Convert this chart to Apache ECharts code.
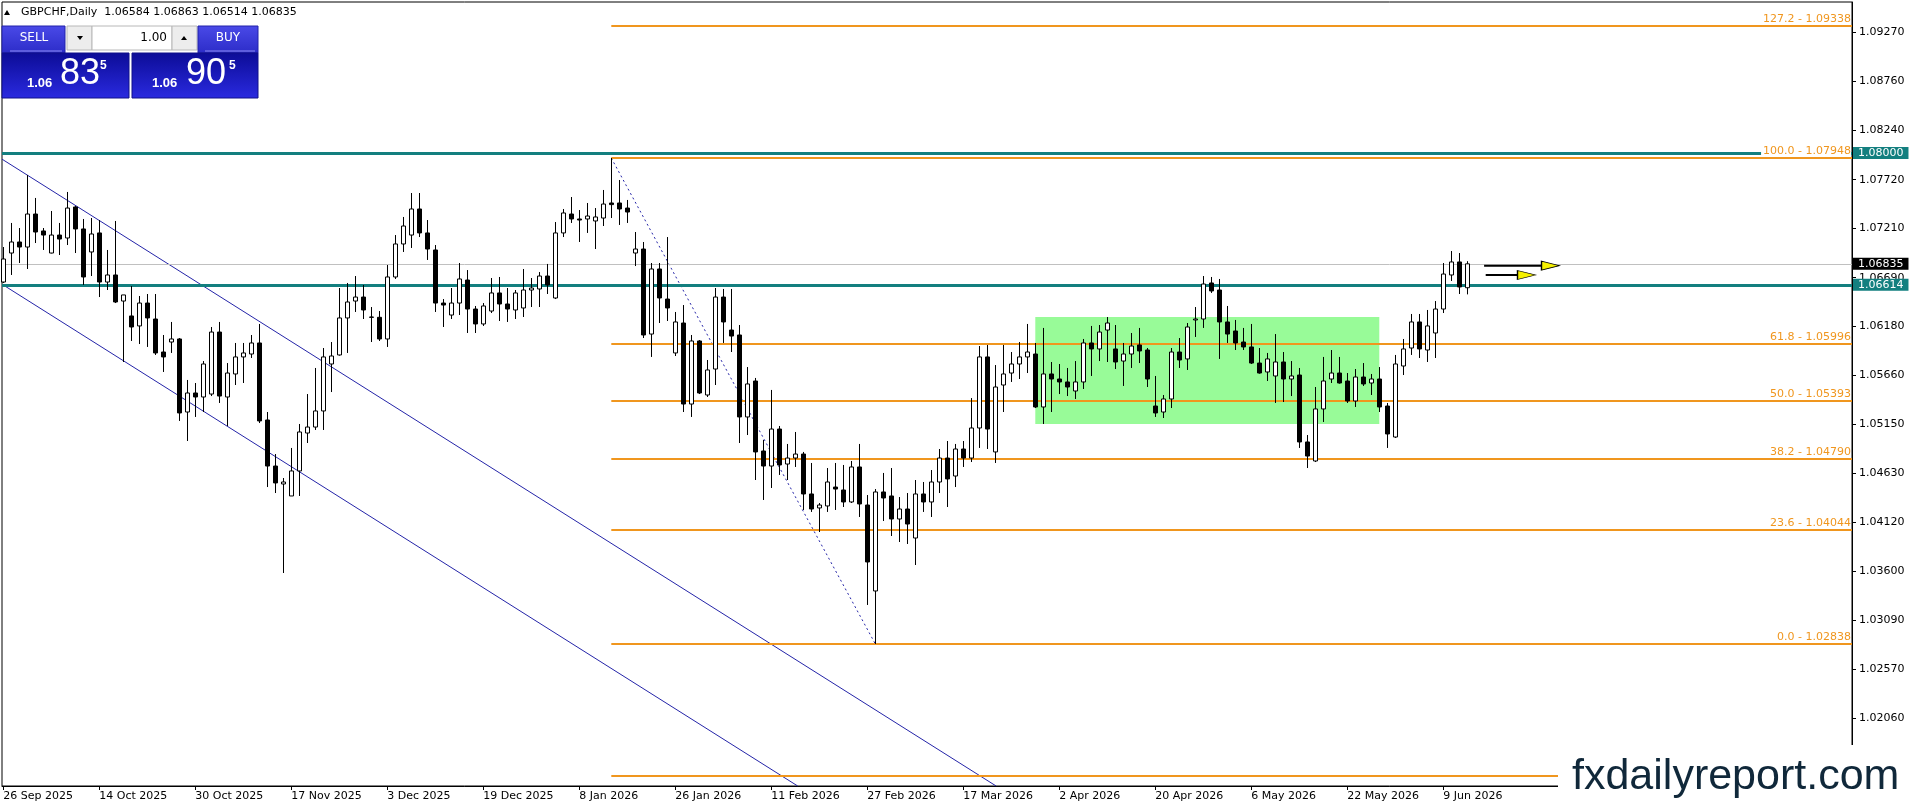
<!DOCTYPE html>
<html>
<head>
<meta charset="utf-8">
<script src="https://cdn.jsdelivr.net/npm/echarts/dist/echarts.min.js"></script>
<style>
html,body{margin:0;padding:0;background:#fff;}
#c{width:1916px;height:810px;}
</style>
</head>
<body>
<div id="c"></div>
<script>
// ---------------- DATA ----------------
const dateLabels = ['26 Sep 2025','14 Oct 2025','30 Oct 2025','17 Nov 2025','3 Dec 2025','19 Dec 2025','8 Jan 2026','26 Jan 2026','11 Feb 2026','27 Feb 2026','17 Mar 2026','2 Apr 2026','20 Apr 2026','6 May 2026','22 May 2026','9 Jun 2026'];
const dateLabelStep = 12;
const priceTicks = [1.0927,1.0876,1.0824,1.0772,1.0721,1.0669,1.0618,1.0566,1.0515,1.0463,1.0412,1.0360,1.0309,1.0257,1.0206];

const opens = [
1.06644,1.06949,1.07065,1.07012,1.07359,1.07181,1.06949,1.07138,1.07107,1.07433,
1.07202,1.06960,1.07160,1.06644,1.06718,1.06444,1.06287,1.06182,1.06423,1.06255,
1.05908,1.06013,1.06045,1.05277,1.05477,1.05435,1.05466,1.06118,1.05435,1.05677,
1.05856,1.05887,1.06003,1.05193,1.04709,1.04520,1.04394,1.04657,1.05056,1.05119,
1.05288,1.05782,1.05877,1.06266,1.06444,1.06486,1.06276,1.06273,1.06045,1.06697,
1.07044,1.07138,1.07412,1.07160,1.06981,1.06423,1.06297,1.06423,1.06665,1.06360,
1.06203,1.06339,1.06529,1.06413,1.06350,1.06371,1.06560,1.06571,1.06707,1.06476,
1.07160,1.07359,1.07307,1.07307,1.07286,1.07317,1.07475,1.07475,1.07422,1.06949,
1.06991,1.06097,1.06781,1.06465,1.05898,1.06213,1.05361,1.06024,1.05456,1.05729,
1.06486,1.06139,1.06087,1.05225,1.05603,1.04867,1.04709,1.05098,1.04730,1.04793,
1.04835,1.04415,1.04268,1.04289,1.04488,1.04457,1.04331,1.04699,1.04299,1.03395,
1.04436,1.04394,1.04152,1.04257,1.03952,1.04415,1.04331,1.04541,1.04793,1.04604,
1.04888,1.04793,1.05109,1.05856,1.04857,1.05561,1.05687,1.05782,1.05856,1.05887,
1.05330,1.05677,1.05624,1.05593,1.05498,1.05593,1.06003,1.05940,1.06139,1.05940,
1.05813,1.05887,1.05982,1.05929,1.05340,1.05277,1.05414,1.05908,1.05835,1.06245,
1.06255,1.06634,1.06560,1.06224,1.06129,1.06013,1.05961,1.05792,1.05698,1.05656,
1.05803,1.05624,1.05666,1.04962,1.04762,1.05309,1.05624,1.05687,1.05603,1.05393,
1.05645,1.05582,1.05624,1.05340,1.05014,1.05761,1.05950,1.06224,1.05929,1.06108,
1.06360,1.06718,1.06855,1.06584];

const highs = [
1.07012,1.07265,1.07212,1.07769,1.07528,1.07212,1.07391,1.07265,1.07591,1.07443,
1.07307,1.07317,1.07296,1.06981,1.07286,1.06508,1.06602,1.06497,1.06518,1.06518,
1.06087,1.06224,1.06055,1.05614,1.05582,1.05813,1.06171,1.06224,1.05792,1.06003,
1.06003,1.06087,1.06203,1.05277,1.04835,1.04583,1.04899,1.05151,1.05466,1.05740,
1.05950,1.06013,1.06581,1.06634,1.06707,1.06613,1.06381,1.06339,1.06823,1.07138,
1.07328,1.07580,1.07580,1.07296,1.07033,1.06465,1.06581,1.06844,1.06770,1.06392,
1.06423,1.06686,1.06697,1.06581,1.06560,1.06781,1.06686,1.06749,1.06834,1.07275,
1.07412,1.07538,1.07401,1.07475,1.07422,1.07612,1.07948,1.07717,1.07507,1.07170,
1.07065,1.06844,1.06844,1.07117,1.06329,1.06402,1.06087,1.06034,1.05824,1.06581,
1.06571,1.06571,1.06192,1.05750,1.05635,1.04983,1.05509,1.05130,1.04941,1.05067,
1.04857,1.04741,1.04320,1.04688,1.04741,1.04720,1.04762,1.04941,1.04404,1.04467,
1.04636,1.04688,1.04383,1.04425,1.04562,1.04541,1.04667,1.04888,1.04972,1.04941,
1.04972,1.05424,1.05971,1.05982,1.05771,1.05982,1.05908,1.06013,1.06203,1.06003,
1.06161,1.05803,1.05782,1.05740,1.05813,1.06045,1.06182,1.06192,1.06276,1.06192,
1.06003,1.06108,1.06161,1.05950,1.05656,1.05456,1.05950,1.06055,1.06213,1.06381,
1.06707,1.06697,1.06676,1.06392,1.06245,1.06161,1.06203,1.05950,1.05898,1.06097,
1.05908,1.05813,1.05740,1.05035,1.05540,1.05856,1.05929,1.05856,1.05687,1.05729,
1.05792,1.05677,1.05750,1.05372,1.05877,1.06045,1.06308,1.06308,1.06350,1.06444,
1.06844,1.06970,1.06949,1.06863];

const lows = [
1.06634,1.06718,1.06844,1.06781,1.07054,1.06981,1.06945,1.06928,1.07033,1.06949,
1.06613,1.06707,1.06486,1.06560,1.06423,1.05803,1.06024,1.05992,1.05961,1.05877,
1.05698,1.05898,1.05183,1.04972,1.05225,1.05277,1.05445,1.05372,1.05130,1.05561,
1.05582,1.05845,1.05161,1.04488,1.04425,1.03584,1.04394,1.04394,1.04951,1.05088,
1.05088,1.05487,1.05870,1.05898,1.06329,1.06255,1.06013,1.06024,1.05961,1.06676,
1.06960,1.07002,1.07117,1.06876,1.06329,1.06171,1.06255,1.06297,1.06108,1.06108,
1.06182,1.06318,1.06234,1.06224,1.06255,1.06276,1.06381,1.06381,1.06518,1.06465,
1.07117,1.07265,1.07065,1.07160,1.06991,1.07233,1.07317,1.07244,1.07265,1.06812,
1.06055,1.05856,1.06213,1.06234,1.05866,1.05277,1.05225,1.05466,1.05435,1.05561,
1.06003,1.05908,1.04951,1.05035,1.04562,1.04352,1.04478,1.04615,1.04562,1.04699,
1.04247,1.04226,1.04015,1.04226,1.04247,1.04278,1.04320,1.04173,1.03248,1.02838,
1.04131,1.03973,1.03910,1.03889,1.03668,1.04226,1.04173,1.04425,1.04278,1.04488,
1.04699,1.04751,1.04899,1.04888,1.04741,1.05277,1.05593,1.05624,1.05687,1.05319,
1.05151,1.05277,1.05466,1.05445,1.05414,1.05519,1.05656,1.05813,1.05803,1.05729,
1.05551,1.05740,1.05792,1.05540,1.05225,1.05214,1.05319,1.05740,1.05719,1.06066,
1.06161,1.06529,1.05835,1.06003,1.05929,1.05929,1.05782,1.05680,1.05603,1.05372,
1.05382,1.05445,1.04899,1.04688,1.04751,1.05172,1.05582,1.05575,1.05372,1.05330,
1.05551,1.05456,1.05277,1.04899,1.05004,1.05666,1.05877,1.05845,1.05803,1.05845,
1.06318,1.06655,1.06518,1.06514];

const closes = [
1.06886,1.07065,1.07012,1.07359,1.07170,1.07138,1.07138,1.07096,1.07422,1.07202,
1.06697,1.07149,1.06644,1.06718,1.06434,1.06508,1.06171,1.06423,1.06266,1.05898,
1.05856,1.06045,1.05267,1.05477,1.05435,1.05782,1.06118,1.05445,1.05687,1.05856,
1.05898,1.06003,1.05183,1.04709,1.04531,1.04541,1.04657,1.05067,1.05119,1.05288,
1.05856,1.05866,1.06266,1.06434,1.06486,1.06350,1.06273,1.06045,1.06697,1.07044,
1.07233,1.07412,1.07160,1.06991,1.06423,1.06402,1.06423,1.06676,1.06360,1.06203,
1.06392,1.06529,1.06413,1.06360,1.06529,1.06560,1.06581,1.06707,1.06613,1.07160,
1.07370,1.07307,1.07296,1.07338,1.07328,1.07464,1.07458,1.07412,1.07380,1.06991,
1.06087,1.06781,1.06476,1.06371,1.06224,1.05361,1.06024,1.05477,1.05719,1.06486,
1.06224,1.06076,1.05225,1.05572,1.04857,1.04709,1.05098,1.04720,1.04793,1.04835,
1.04415,1.04257,1.04299,1.04541,1.04467,1.04331,1.04699,1.04310,1.03700,1.04436,
1.04373,1.04152,1.04257,1.04099,1.04415,1.04331,1.04541,1.04793,1.04573,1.04888,
1.04793,1.05109,1.05856,1.05098,1.05540,1.05677,1.05782,1.05856,1.05908,1.05330,
1.05677,1.05624,1.05593,1.05540,1.05593,1.06003,1.05940,1.06118,1.06213,1.05803,
1.05887,1.05971,1.05919,1.05624,1.05267,1.05414,1.05908,1.05824,1.06171,1.06255,
1.06623,1.06550,1.06224,1.06097,1.06003,1.05961,1.05792,1.05687,1.05835,1.05803,
1.05624,1.05656,1.04962,1.04814,1.05309,1.05603,1.05687,1.05582,1.05393,1.05645,
1.05572,1.05624,1.05330,1.05046,1.05782,1.05940,1.06224,1.05940,1.06182,1.06360,
1.06728,1.06855,1.06592,1.06835];

// Fibonacci retracement (anchored at bar 76 high)
const fibStartBar = 76;
const fibLevels = ['127.2','100.0','61.8','50.0','38.2','23.6','0.0','-27.2'];
const fibPrices = [1.09338,1.07948,1.05996,1.05393,1.04790,1.04044,1.02838,1.01448];
const fibTrend = [[76,1.07948],[109,1.02838]];

// Horizontal levels
const tealLevels = [1.08000,1.06614];
const bidPrice = 1.06835;

// Descending channel
const channelUpper = [[-0.16,1.07936],[124.1,1.01344]];
const channelLower = [[-0.16,1.06621],[99.3,1.01344]];

// Consolidation box
const boxBars = [129,172];
const boxPrices = [1.06276,1.05151];

// Arrows: [startBar, endBar, headBar, price]
const arrow1 = [185.1,192.6,193.4,1.06816];
const arrow2 = [185.3,189.6,190.4,1.06718];

const header = 'GBPCHF,Daily  1.06584 1.06863 1.06514 1.06835';

// ---------------- CHART ----------------
const FONT = '"Liberation Sans", Arial, sans-serif';
const MT = '"DejaVu Sans", Verdana, sans-serif';
const ORANGE = '#f0961e';
const TEAL = '#137f7f';
const xMin = -0.1625, xMax = 231.0875;
const yMin = 1.013441, yMax = 1.095887;

const candleData = opens.map((o,i)=>[i,o,closes[i],lows[i],highs[i]]);
const labelIdx = dateLabels.map((d,k)=>k*dateLabelStep);

const fibLineData = fibPrices.map((p,k)=>[
  {name: fibLevels[k] + ' - ' + p.toFixed(5), coord:[fibStartBar,p],
   label: {show: fibLevels[k] !== '-27.2'}},
  {coord:[xMax,p]}
]);

const chart = echarts.init(document.getElementById('c'), null, {renderer:'canvas', width:1916, height:810});

const blueGradTop = new echarts.graphic.LinearGradient(0,0,0,1,[{offset:0,color:'#4a4ae8'},{offset:1,color:'#2c2cc8'}]);
const blueGradBot = new echarts.graphic.LinearGradient(0,0,0,1,[{offset:0,color:'#0c0c96'},{offset:1,color:'#2a2ae0'}]);

const option = {
  animation:false,
  backgroundColor:'#fff',
  textStyle:{fontFamily:MT},
  grid:{left:2, top:2, width:1850, height:784, show:true, borderColor:'#000', borderWidth:1, backgroundColor:'#fff'},
  xAxis:{
    type:'value', min:xMin, max:xMax,
    axisLine:{show:true, onZero:false, lineStyle:{color:'#000', width:1}},
    axisTick:{show:true, length:4, customValues:labelIdx, lineStyle:{color:'#000'}},
    axisLabel:{customValues:labelIdx, formatter:(v)=>dateLabels[Math.round(v/dateLabelStep)]||'', align:'left', margin:5, fontSize:11, color:'#000', fontFamily:MT},
    splitLine:{show:false}
  },
  yAxis:{
    type:'value', position:'right', min:yMin, max:yMax, scale:true,
    axisLine:{show:true, onZero:false, lineStyle:{color:'#000', width:1}},
    axisTick:{show:true, length:4, customValues:priceTicks, lineStyle:{color:'#000'}},
    axisLabel:{customValues:priceTicks, formatter:(v)=>v.toFixed(5), margin:7, fontSize:11, color:'#000', fontFamily:MT},
    splitLine:{show:false}
  },
  series:[
    { // consolidation box
      type:'line', data:[], z:1, silent:true,
      markArea:{silent:true, itemStyle:{color:'#98fb98', opacity:1},
        data:[[{coord:[boxBars[0],boxPrices[0]]},{coord:[boxBars[1],boxPrices[1]]}]]}
    },
    { // channel upper
      type:'line', data:channelUpper, z:2, symbol:'none', silent:true, clip:true,
      lineStyle:{color:'#2424a8', width:1}
    },
    { // channel lower
      type:'line', data:channelLower, z:2, symbol:'none', silent:true, clip:true,
      lineStyle:{color:'#2424a8', width:1}
    },
    { // bid line
      type:'line', data:[], z:2, silent:true,
      markLine:{silent:true, precision:5, symbol:['none','none'], animation:false,
        lineStyle:{color:'#c0c0c0', width:1, type:'solid'},
        label:{show:true, position:'end', distance:1, formatter:'{b}', color:'#fff', backgroundColor:'#000', padding:[1,5,0,5], fontSize:11, fontFamily:MT},
        data:[{name:bidPrice.toFixed(5), yAxis:bidPrice}]}
    },
    { // teal levels
      type:'line', data:[], z:3, silent:true,
      markLine:{silent:true, precision:5, symbol:['none','none'], animation:false,
        lineStyle:{color:TEAL, width:3, type:'solid'},
        label:{show:true, position:'end', distance:1, formatter:'{b}', color:'#fff', backgroundColor:TEAL, padding:[1,5,0,5], fontSize:11, fontFamily:MT},
        data:tealLevels.map(v=>({name:v.toFixed(5), yAxis:v}))}
    },
    { // fib levels
      type:'line', data:[], z:4, silent:true,
      markLine:{silent:true, precision:5, symbol:['none','none'], animation:false,
        lineStyle:{color:ORANGE, width:2, type:'solid'},
        label:{show:true, position:'insideEndTop', distance:1, formatter:'{b}', color:ORANGE, backgroundColor:'#fff', padding:[0,0,0,2], fontSize:11, fontFamily:MT},
        data:fibLineData}
    },
    { // fib trend line
      type:'line', data:fibTrend, z:4, symbol:'none', silent:true,
      lineStyle:{color:'#2424a8', width:1, type:[2,3]}
    },
    { // candles
      type:'candlestick', name:'GBPCHF', z:6, silent:true,
      dimensions:['bar','open','close','lowest','highest'],
      encode:{x:0, y:[1,2,3,4]},
      data:candleData,
      barWidth:4,
      itemStyle:{color:'#fff', color0:'#000', borderColor:'#000', borderColor0:'#000', borderWidth:1}
    },
    { // arrow shafts
      type:'line', z:7, symbol:'none', silent:true,
      data:[[arrow1[0],arrow1[3]],[arrow1[1],arrow1[3]]],
      lineStyle:{color:'#000', width:2}
    },
    {
      type:'line', z:7, symbol:'none', silent:true,
      data:[[arrow2[0],arrow2[3]],[arrow2[1],arrow2[3]]],
      lineStyle:{color:'#000', width:2}
    },
    { // arrow heads
      type:'scatter', z:8, silent:true,
      symbol:'triangle', symbolRotate:-90, symbolSize:[9,18],
      data:[[arrow1[2],arrow1[3]],[arrow2[2],arrow2[3]]],
      itemStyle:{color:'#f5f000', borderColor:'#000', borderWidth:1, opacity:1}
    }
  ],
  graphic:[
    {type:'polygon', z:50, shape:{points:[[4,15],[10,15],[7,10]]}, style:{fill:'#000'}},
    {type:'text', z:50, x:21, y:12, style:{text:header, fill:'#000', font:'11px '+MT, verticalAlign:'middle'}},
    // SELL
    {type:'rect', z:50, shape:{x:2, y:26, width:63, height:27}, style:{fill:blueGradTop, stroke:'#2222aa', lineWidth:1}},
    {type:'line', z:51, shape:{x1:10, y1:51, x2:62, y2:51}, style:{stroke:'#8c8cf0', lineWidth:1}},
    {type:'text', z:51, x:34, y:38, style:{text:'SELL', fill:'#fff', font:'12px '+MT, align:'center', verticalAlign:'middle'}},
    // down box
    {type:'rect', z:50, shape:{x:67, y:26, width:25, height:24}, style:{fill:'#ededed', stroke:'#b8b8b8', lineWidth:1}},
    {type:'polygon', z:51, shape:{points:[[77,36],[83,36],[80,40]]}, style:{fill:'#000'}},
    // value box
    {type:'rect', z:50, shape:{x:92, y:26, width:80, height:24}, style:{fill:'#fff', stroke:'#b8b8b8', lineWidth:1}},
    {type:'text', z:51, x:167, y:38, style:{text:'1.00', fill:'#000', font:'12px '+MT, align:'right', verticalAlign:'middle'}},
    // up box
    {type:'rect', z:50, shape:{x:172, y:26, width:25, height:24}, style:{fill:'#ededed', stroke:'#b8b8b8', lineWidth:1}},
    {type:'polygon', z:51, shape:{points:[[181,40],[187,40],[184,36]]}, style:{fill:'#000'}},
    // BUY
    {type:'rect', z:50, shape:{x:198, y:26, width:60, height:27}, style:{fill:blueGradTop, stroke:'#2222aa', lineWidth:1}},
    {type:'line', z:51, shape:{x1:205, y1:51, x2:255, y2:51}, style:{stroke:'#8c8cf0', lineWidth:1}},
    {type:'text', z:51, x:228, y:38, style:{text:'BUY', fill:'#fff', font:'12px '+MT, align:'center', verticalAlign:'middle'}},
    // lower panels
    {type:'rect', z:50, shape:{x:2, y:53, width:127, height:45}, style:{fill:blueGradBot, stroke:'#10108a', lineWidth:1}},
    {type:'rect', z:50, shape:{x:132, y:53, width:126, height:45}, style:{fill:blueGradBot, stroke:'#10108a', lineWidth:1}},
    {type:'text', z:51, x:27, y:83, style:{text:'1.06', fill:'#fff', font:'bold 13px '+FONT, verticalAlign:'middle'}},
    {type:'text', z:51, x:60, y:74, style:{text:'83', fill:'#fff', font:'36px '+FONT, verticalAlign:'middle'}},
    {type:'text', z:51, x:100, y:66, style:{text:'5', fill:'#fff', font:'bold 12px '+FONT, verticalAlign:'middle'}},
    {type:'text', z:51, x:152, y:83, style:{text:'1.06', fill:'#fff', font:'bold 13px '+FONT, verticalAlign:'middle'}},
    {type:'text', z:51, x:186, y:74, style:{text:'90', fill:'#fff', font:'36px '+FONT, verticalAlign:'middle'}},
    {type:'text', z:51, x:229, y:66, style:{text:'5', fill:'#fff', font:'bold 12px '+FONT, verticalAlign:'middle'}},
    // watermark
    {type:'rect', z:90, shape:{x:1558, y:745, width:358, height:65}, style:{fill:'#fff'}},
    {type:'text', z:91, x:1572, y:777, style:{text:'fxdailyreport.com', fill:'#10283a', font:'43px '+FONT, verticalAlign:'middle'}}
  ]
};
chart.setOption(option);
</script>
</body>
</html>
